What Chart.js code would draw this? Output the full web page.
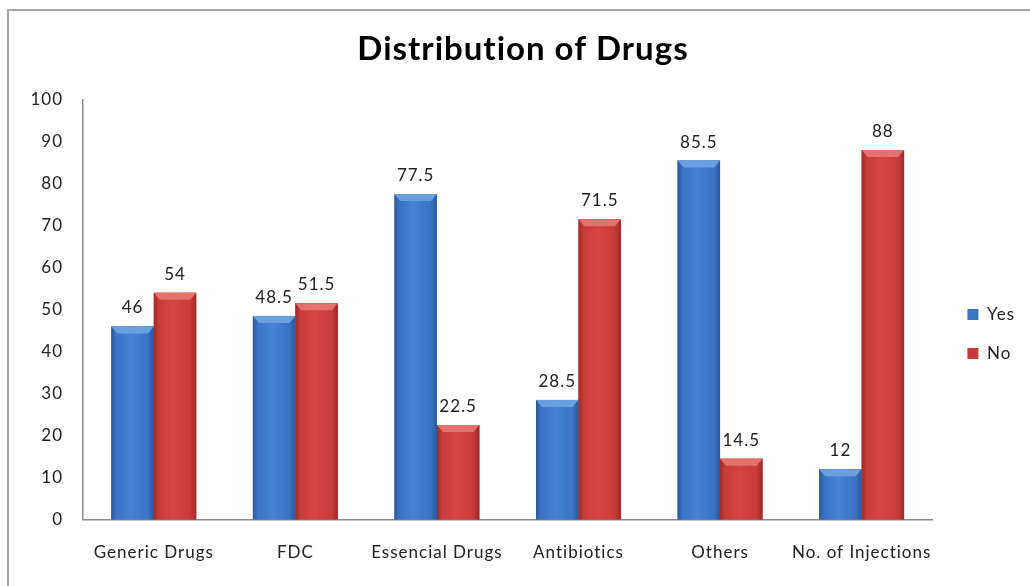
<!DOCTYPE html>
<html>
<head>
<meta charset="utf-8">
<script src="https://cdn.jsdelivr.net/npm/chart.js@4"></script>
<style>
  html, body { margin: 0; padding: 0; background: #fff; }
  #wrap { width: 1030px; height: 586px; }
</style>
</head>
<body>
<div id="wrap"><canvas id="drugs-chart" width="1030" height="586"></canvas></div>
<script>
const categories = ["Generic Drugs", "FDC", "Essencial Drugs", "Antibiotics", "Others", "No. of Injections"];
const yesValues = [46, 48.5, 77.5, 28.5, 85.5, 12];
const noValues = [54, 51.5, 22.5, 71.5, 14.5, 88];
const seriesNames = ["Yes", "No"];

const FONT = "Lato, 'Open Sans', sans-serif";

// colours for the fake cylinder look: edge, middle, top bevel
const shades = [
  { flat: "#3a74c4", edge: "#2a589c", mid: "#4583d3", top: "#6a9fe0" },
  { flat: "#c93b38", edge: "#9c2a29", mid: "#d54642", top: "#e4716c" },
];

// Calibri-ish text is wider than Lato, so loosen it a little
const spacingPlugin = {
  id: "spacing",
  beforeUpdate(chart) { chart.ctx.letterSpacing = "1px"; },
  beforeDraw(chart) { chart.ctx.letterSpacing = "1px"; },
};

// nudge title and legend to where the original has them
const placePlugin = {
  id: "place",
  afterLayout(chart) {
    const lg = chart.legend;
    lg.left += 13; lg.right += 13;
    lg.top += 35; lg.bottom += 35;
    const t = chart.titleBlock;
    t.left += 12; t.right += 12;
  },
};

const framePlugin = {
  id: "frame",
  beforeDraw(chart) {
    const ctx = chart.ctx;
    ctx.save();
    ctx.strokeStyle = "#a6a6a6";
    ctx.lineWidth = 2;
    ctx.beginPath();
    ctx.moveTo(8, chart.height);
    ctx.lineTo(8, 10);
    ctx.lineTo(chart.width, 10);
    ctx.stroke();
    ctx.restore();
  },
};

const barLookPlugin = {
  id: "barLook",
  afterDatasetsDraw(chart) {
    const ctx = chart.ctx;
    ctx.save();
    chart.data.datasets.forEach((ds, di) => {
      const s = shades[di];
      chart.getDatasetMeta(di).data.forEach((bar) => {
        const left = bar.x - bar.width / 2;
        const right = bar.x + bar.width / 2;
        const top = bar.y;
        const h = bar.base - bar.y;
        const g = ctx.createLinearGradient(left, 0, right, 0);
        g.addColorStop(0, s.edge);
        g.addColorStop(0.12, s.flat);
        g.addColorStop(0.45, s.mid);
        g.addColorStop(0.85, s.flat);
        g.addColorStop(1, s.edge);
        ctx.fillStyle = g;
        ctx.fillRect(left, top, bar.width, h);
        // top bevel
        const bev = Math.min(7, h / 2);
        ctx.fillStyle = s.top;
        ctx.beginPath();
        ctx.moveTo(left, top);
        ctx.lineTo(right, top);
        ctx.lineTo(right - 6, top + bev);
        ctx.lineTo(left + 6, top + bev);
        ctx.closePath();
        ctx.fill();
      });
    });
    ctx.restore();
  },
};

const valueLabelPlugin = {
  id: "valueLabels",
  afterDatasetsDraw(chart) {
    const ctx = chart.ctx;
    ctx.save();
    ctx.font = "17px " + FONT;
    ctx.fillStyle = "#222";
    ctx.textAlign = "center";
    ctx.textBaseline = "alphabetic";
    chart.data.datasets.forEach((ds, di) => {
      chart.getDatasetMeta(di).data.forEach((bar, i) => {
        ctx.fillText(String(ds.data[i]), bar.x, bar.y - 13);
      });
    });
    ctx.restore();
  },
};

new Chart("drugs-chart", {
  type: "bar",
  data: {
    labels: categories,
    datasets: [
      {
        label: seriesNames[0],
        data: yesValues,
        backgroundColor: shades[0].flat,
        categoryPercentage: 0.6,
        barPercentage: 1,
      },
      {
        label: seriesNames[1],
        data: noValues,
        backgroundColor: shades[1].flat,
        categoryPercentage: 0.6,
        barPercentage: 1,
      },
    ],
  },
  options: {
    responsive: false,
    animation: false,
    layout: { padding: { left: 10, right: 18, top: 12, bottom: 0 } },
    plugins: {
      title: {
        display: true,
        text: "Distribution of Drugs",
        color: "#000",
        font: { family: FONT, size: 33, weight: "bold" },
        padding: { top: 18, bottom: 30 },
      },
      legend: {
        position: "right",
        labels: {
          color: "#222",
          font: { family: FONT, size: 17 },
          boxWidth: 11,
          boxHeight: 11,
          padding: 22,
        },
      },
      tooltip: { enabled: false },
    },
    scales: {
      x: {
        grid: { display: false, drawTicks: false },
        border: { color: "#8c8c8c", width: 1.5 },
        ticks: {
          color: "#222",
          font: { family: FONT, size: 17 },
          padding: 23,
          maxRotation: 0,
          minRotation: 0,
          autoSkip: false,
        },
      },
      y: {
        min: 0,
        max: 100,
        grid: { display: false, drawTicks: false },
        border: { color: "#8c8c8c", width: 1.5 },
        ticks: { stepSize: 10, color: "#222", font: { family: FONT, size: 17 }, padding: 20 },
        afterFit(scale) {
          scale.width = 73;
        },
      },
    },
  },
  plugins: [spacingPlugin, placePlugin, framePlugin, barLookPlugin, valueLabelPlugin],
});
</script>
</body>
</html>
